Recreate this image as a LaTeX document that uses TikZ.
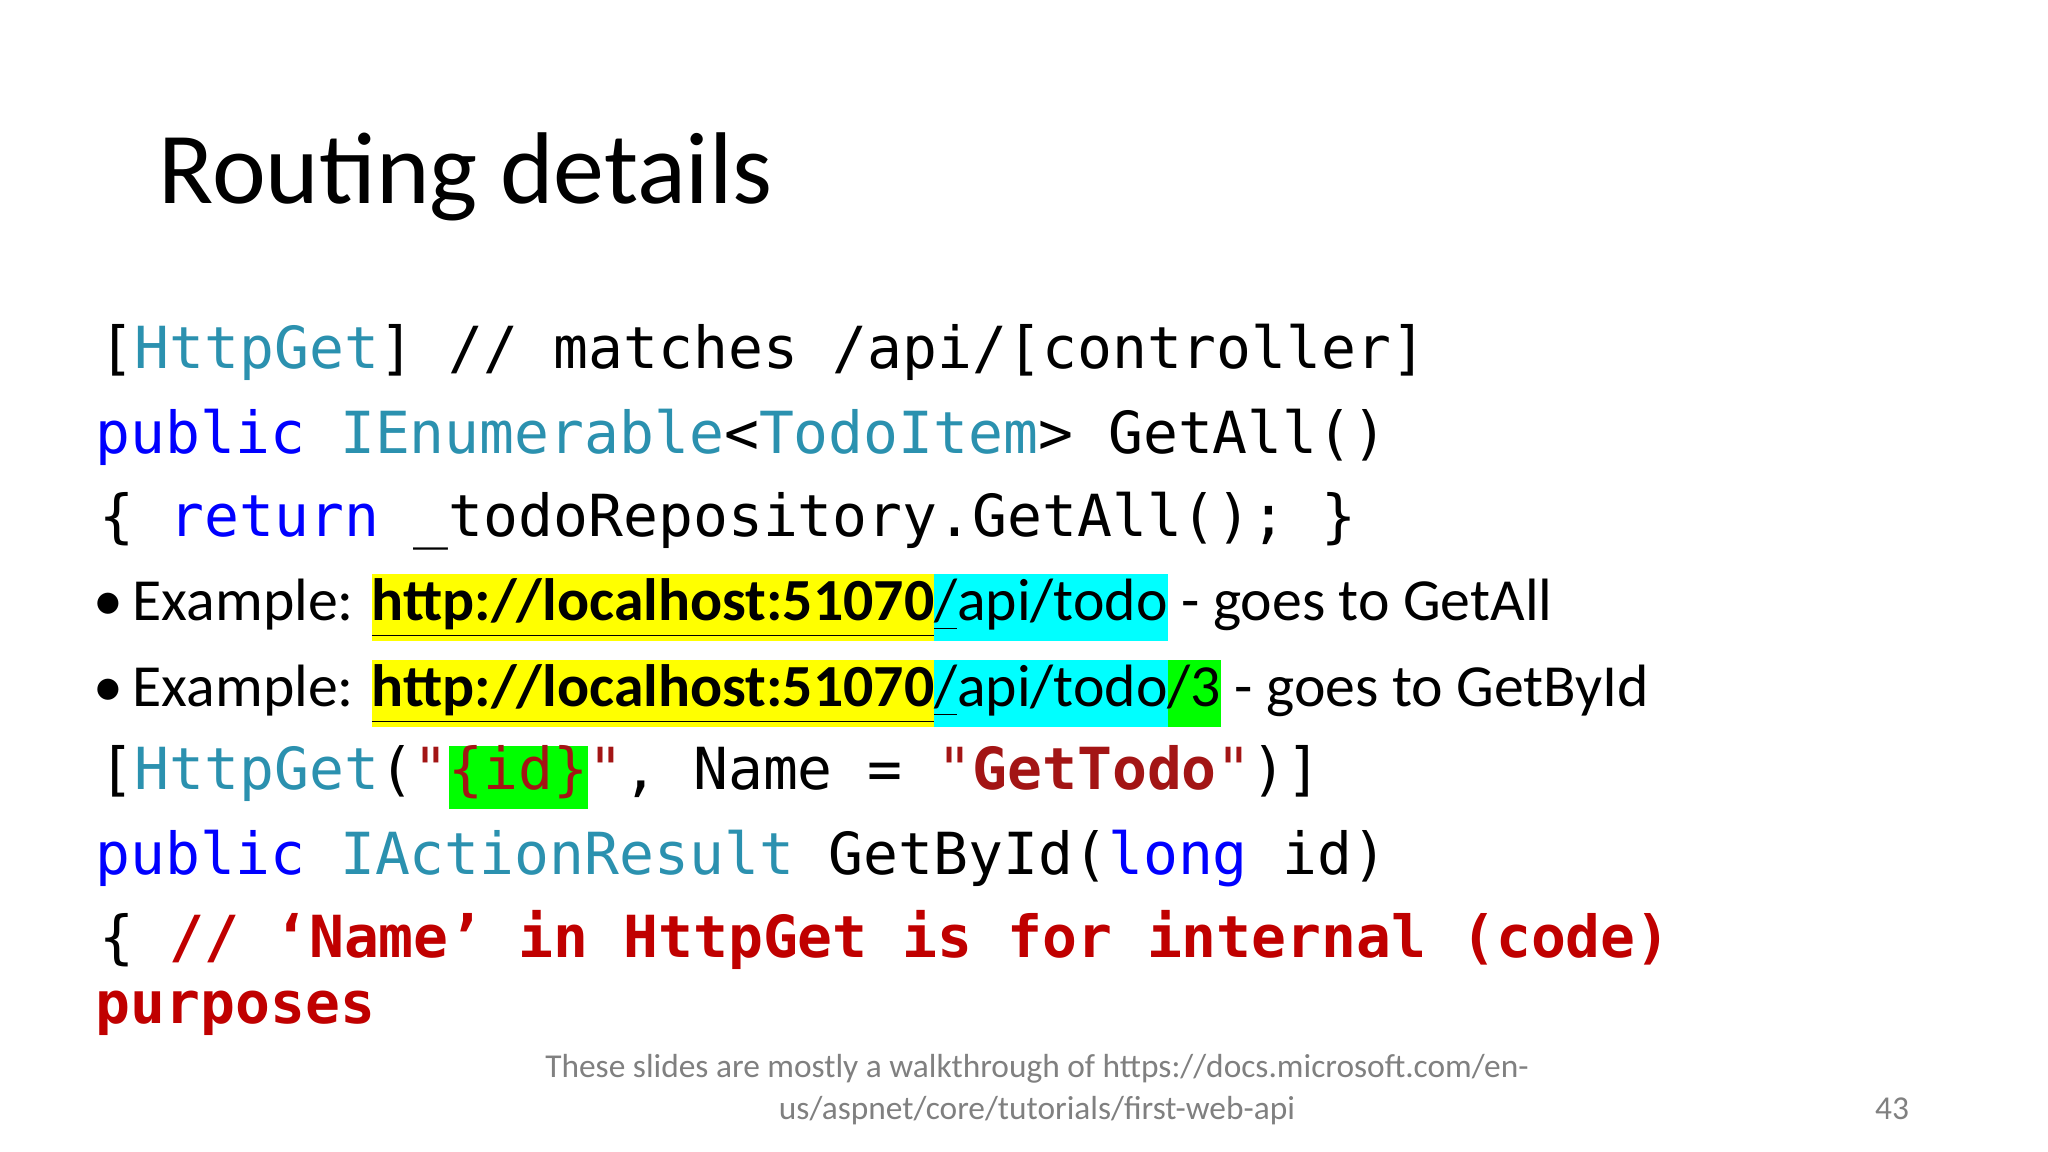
\documentclass[tikz,border=0pt]{standalone}
\usepackage{fontspec}
\setmainfont{Carlito}
\setmonofont{DejaVu Sans Mono}
\definecolor{kwblue}{RGB}{0,0,255}
\definecolor{typeteal}{RGB}{43,145,175}
\definecolor{strred}{RGB}{163,21,21}
\definecolor{cmtred}{RGB}{192,0,0}
\definecolor{hlyellow}{RGB}{255,255,0}
\definecolor{hlcyan}{RGB}{0,255,255}
\definecolor{hlgreen}{RGB}{0,255,0}
\newcommand{\kw}[1]{\textcolor{kwblue}{#1}}
\newcommand{\ty}[1]{\textcolor{typeteal}{#1}}
\newcommand{\hl}[2]{{\fboxsep=0pt\colorbox{#1}{\strut #2}}}
\begin{document}
\begin{tikzpicture}[
  code/.style={anchor=base west,inner sep=0pt,font=\ttfamily\fontsize{16.5}{18}\selectfont},
  bul/.style={anchor=base west,inner sep=0pt,font=\fontsize{17}{19}\selectfont},
  foot/.style={inner sep=0pt,text=gray,font=\fontsize{9.5}{12}\selectfont,align=center}]
  \useasboundingbox[fill=white] (0,0) rectangle (20.48,11.52);

  % title
  \node[anchor=base west,inner sep=0pt,font=\fontsize{29}{32}\selectfont] (title) at (1.58,9.48) {Routing details};

  % code, first action
  \node[code] (get1) at (0.99,7.835) {[\ty{HttpGet}] // matches /api/[controller]};
  \node[code] (sig1) at (0.95,6.98) {\kw{public} \ty{IEnumerable}<\ty{TodoItem}> GetAll()};
  \node[code] (body1) at (0.99,6.15) {\{ \kw{return} \_todoRepository.GetAll(); \}};

  % examples
  \node[bul] (dot1) at (0.93,5.31) {\textbullet};
  \node[bul] (ex1) at (1.32,5.31) {Example: \hl{hlyellow}{\underline{\textbf{http://localhost:51070}}}\hl{hlcyan}{\underline{/}api/todo} - goes to GetAll};
  \node[bul] (dot2) at (0.93,4.45) {\textbullet};
  \node[bul] (ex2) at (1.32,4.45) {Example: \hl{hlyellow}{\underline{\textbf{http://localhost:51070}}}\hl{hlcyan}{\underline{/}api/todo}\hl{hlgreen}{/3} - goes to GetById};

  % code, second action
  \node[code] (get2) at (0.99,3.62) {[\ty{HttpGet}(\textcolor{strred}{"\hl{hlgreen}{\{id\}}"}, Name = \textcolor{strred}{"\textbf{GetTodo}"})]};
  \node[code] (sig2) at (0.95,2.77) {\kw{public} \ty{IActionResult} GetById(\kw{long} id)};
  \node[code] (body2) at (0.99,1.94) {\{ \textcolor{cmtred}{\textbf{// ‘Name’ in HttpGet is for internal (code)}}};
  \node[code] (body3) at (0.95,1.28) {\textcolor{cmtred}{\textbf{purposes}}};

  % footer
  \node[foot] (note) at (10.37,0.62) {These slides are mostly a walkthrough of https://docs.microsoft.com/en-\\us/aspnet/core/tutorials/first-web-api};
  \node[foot] (page) at (18.92,0.43) {43};
\end{tikzpicture}
\end{document}
